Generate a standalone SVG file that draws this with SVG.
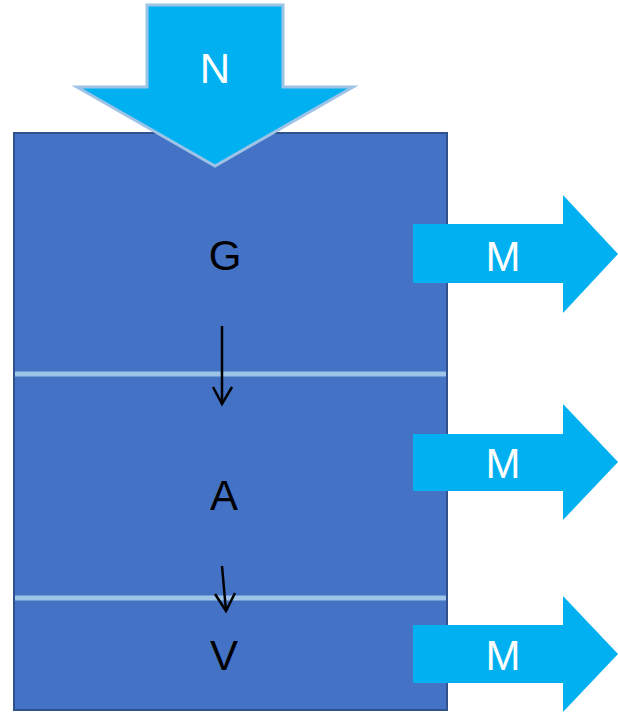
<svg xmlns="http://www.w3.org/2000/svg" width="618" height="713" viewBox="0 0 618 713">
<style>
.block{fill:#4472C4;stroke:#2F528F;stroke-width:2}
.sep{stroke:#9DC3E6;stroke-width:5}
.big{fill:#00B0F0}
.bigN{fill:#00B0F0;stroke:#9DC3E6;stroke-width:3;stroke-linejoin:miter}
.lbl{font-family:"Liberation Sans",Arial,sans-serif;font-size:42px;text-anchor:middle}
.w{fill:#FFFFFF}
.k{fill:#000000}
.con{fill:none;stroke:#000;stroke-width:2.5}
</style>
<g id="block">
<rect class="block" x="14" y="133" width="433" height="577"/>
<line class="sep" x1="15" y1="374" x2="446" y2="374"/>
<line class="sep" x1="15" y1="598" x2="446" y2="598"/>
</g>
<g id="node-N">
<polygon class="bigN" points="147,5 283,5 283,87 353,87 215,166 77,87 147,87"/>
<text class="lbl w" x="215" y="83">N</text>
</g>
<g id="node-G"><text class="lbl k" x="225" y="270">G</text></g>
<g id="node-A"><text class="lbl k" x="224" y="510">A</text></g>
<g id="node-V"><text class="lbl k" x="224" y="670">V</text></g>
<g id="node-M1">
<polygon class="big" points="413,224 563,224 563,195 618,254 563,313 563,283 413,283"/>
<text class="lbl w" x="503" y="271">M</text>
</g>
<g id="node-M2">
<polygon class="big" points="413,434 563,434 563,404 618,462 563,520 563,491 413,491"/>
<text class="lbl w" x="503" y="478">M</text>
</g>
<g id="node-M3">
<polygon class="big" points="413,625 563,625 563,596 618,654 563,712 563,683 413,683"/>
<text class="lbl w" x="503" y="670">M</text>
</g>
<g id="connectors">
<line class="con" x1="222" y1="326" x2="222" y2="404"/>
<polyline class="con" points="213,387 222,404 232,387"/>
<line class="con" x1="222" y1="566" x2="226" y2="611"/>
<polyline class="con" points="215,594 226,611 235,593"/>
</g>
</svg>
